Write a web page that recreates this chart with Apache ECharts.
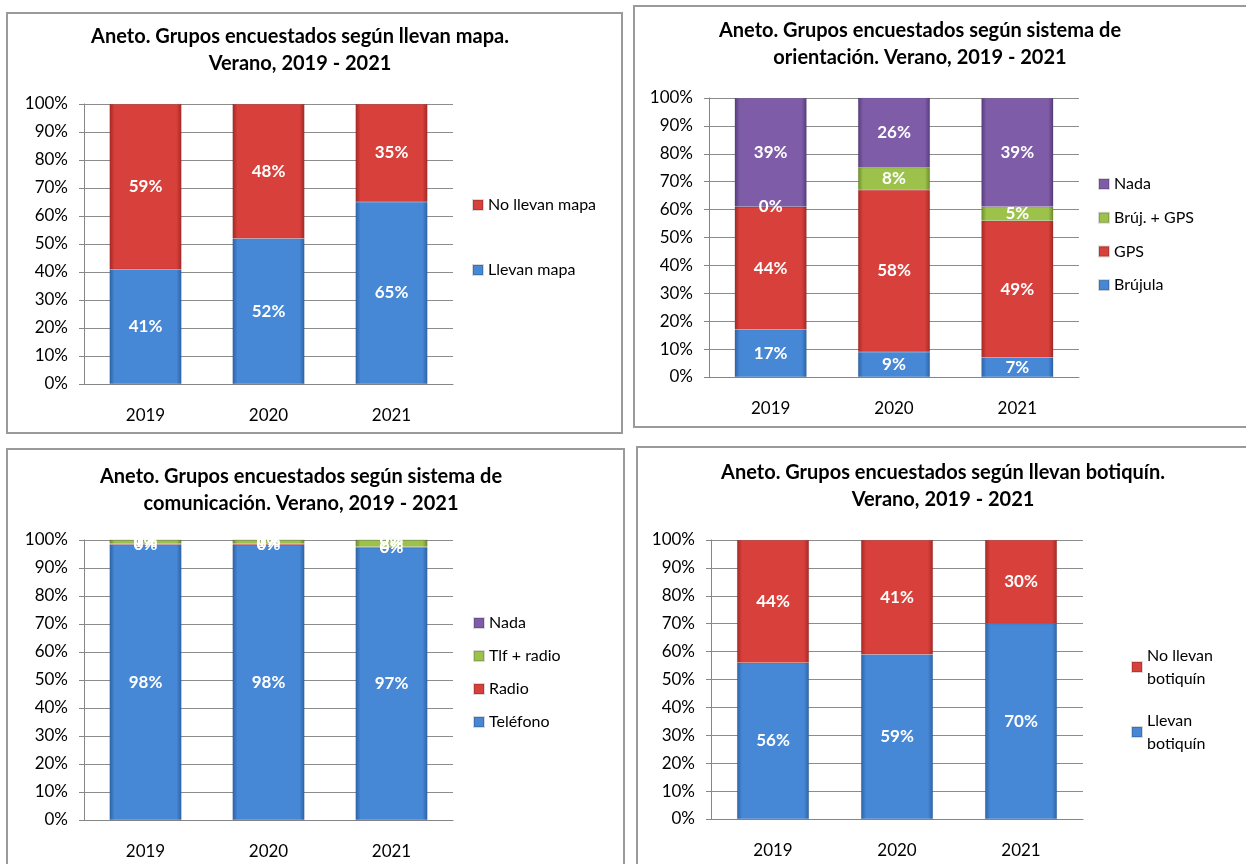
<!DOCTYPE html>
<html><head><meta charset="utf-8">
<script src="https://cdn.jsdelivr.net/npm/echarts@6/dist/echarts.min.js"></script>
<style>html,body{margin:0;padding:0;background:#fff}#c{width:1246px;height:864px}</style>
</head><body><div id="c"></div>
<script>
// ---- Data ----
const years = ['2019', '2020', '2021'];
const yTicks = ['0%','10%','20%','30%','40%','50%','60%','70%','80%','90%','100%'];

// Chart 1: mapa
const mapaSeriesNames = ['Llevan mapa', 'No llevan mapa'];
const mapaLlevan = [41, 52, 65];
const mapaNoLlevan = [59, 48, 35];

// Chart 2: orientación
const orientSeriesNames = ['Brújula', 'GPS', 'Brúj. + GPS', 'Nada'];
const orientBrujula = [17, 9, 7];
const orientGPS = [44, 58, 49];
const orientBrujGPS = [0, 8, 5];
const orientNada = [39, 26, 39];

// Chart 3: comunicación
const comSeriesNames = ['Teléfono', 'Radio', 'Tlf + radio', 'Nada'];
const comTelefono = [98.4, 98.3, 97.2];
const comRadio = [0.3, 0.4, 0.4];
const comTlfRadio = [1.3, 1.3, 2.4];
const comNada = [0, 0, 0];

// Chart 4: botiquín
const botSeriesNames = ['Llevan\nbotiquín', 'No llevan\nbotiquín'];
const botLlevan = [56, 59, 70];
const botNoLlevan = [44, 41, 30];

// ---- Styles ----
const FONT = 'Lato';
function grad(dark, base) {
  return new echarts.graphic.LinearGradient(0, 0, 1, 0, [
    {offset: 0, color: dark}, {offset: 0.07, color: base},
    {offset: 0.93, color: base}, {offset: 1, color: dark}]);
}
const C = {
  blue: grad('#2d62a6', '#4687d6'),
  red: grad('#a32824', '#d8403b'),
  green: grad('#6c8c28', '#9dc24c'),
  purple: grad('#563b7c', '#7e5ca8')
};

const grids = [
  {left: 84, top: 104, width: 369, height: 280},
  {left: 709, top: 98, width: 370, height: 279},
  {left: 84, top: 540, width: 369, height: 280},
  {left: 711, top: 540, width: 372, height: 279}
];

function xAx(i) {
  return {type: 'category', gridIndex: i, data: years,
    axisLine: {show: true, lineStyle: {color: '#868686', width: 1}},
    axisTick: {show: false},
    axisLabel: {color: '#000', fontFamily: FONT, fontSize: 17, margin: 23}};
}
function yAx(i) {
  return {type: 'value', gridIndex: i, min: 0, max: 100, interval: 10,
    axisLine: {show: true, lineStyle: {color: '#868686'}},
    axisTick: {show: true, length: 5, lineStyle: {color: '#868686'}},
    splitLine: {show: true, lineStyle: {color: '#8c8c8c', width: 1}},
    axisLabel: {color: '#000', fontFamily: FONT, fontSize: 17, margin: 16,
      formatter: v => yTicks[Math.round(v / 10)]}};
}
function bar(name, data, color, i, stack) {
  return {name, type: 'bar', stack, xAxisIndex: i, yAxisIndex: i, data,
    barWidth: 72, itemStyle: {color, borderColor: 'rgba(0,0,0,0.15)', borderWidth: 0.5},
    label: {show: true, position: 'inside', color: '#fff', fontFamily: FONT,
      fontWeight: 'bold', fontSize: 17, formatter: p => Math.round(p.value) + '%'},
    emphasis: {disabled: true}};
}

const titleStyle = {fontFamily: FONT, fontWeight: 'bold', fontSize: 20, color: '#000', lineHeight: 27};
function title(text, x, y) {
  return {text, left: x, top: y, textAlign: 'center', textStyle: titleStyle};
}
function legend(data, x, y, lh, gap) {
  return {data, orient: 'vertical', left: x, top: y, itemWidth: 10, itemHeight: 10,
    itemGap: gap, icon: 'rect', selectedMode: false,
    textStyle: {fontFamily: FONT, fontSize: 16, color: '#000', lineHeight: lh}};
}

const option = {
  animation: false,
  graphic: [
    {type: 'rect', shape: {x: 7, y: 13, width: 615, height: 420}, style: {fill: 'none', stroke: '#9a9a9a', lineWidth: 2}},
    {type: 'rect', shape: {x: 634, y: 6, width: 620, height: 421}, style: {fill: 'none', stroke: '#9a9a9a', lineWidth: 2}},
    {type: 'rect', shape: {x: 7, y: 449, width: 617, height: 430}, style: {fill: 'none', stroke: '#9a9a9a', lineWidth: 2}},
    {type: 'rect', shape: {x: 637, y: 447, width: 620, height: 430}, style: {fill: 'none', stroke: '#9a9a9a', lineWidth: 2}}
  ],
  title: [
    title('Aneto. Grupos encuestados según llevan mapa.\nVerano, 2019 - 2021', 295, 18),
    title('Aneto. Grupos encuestados según sistema de\norientación. Verano, 2019 - 2021', 915, 12),
    title('Aneto. Grupos encuestados según sistema de\ncomunicación. Verano, 2019 - 2021', 296, 458),
    title('Aneto. Grupos encuestados según llevan botiquín.\nVerano, 2019 - 2021', 938, 454)
  ],
  legend: [
    legend(['No llevan mapa', 'Llevan mapa'], 467, 191, 18, 47),
    legend(['Nada', 'Brúj. + GPS', 'GPS', 'Brújula'], 1093, 170, 18, 15.7),
    legend(['Nada', 'Tlf + radio', 'Radio', 'Teléfono'], 468, 609, 18, 15),
    legend(['No llevan\nbotiquín', 'Llevan\nbotiquín'], 1126, 639, 23, 19)
  ],
  grid: grids,
  xAxis: [0, 1, 2, 3].map(xAx),
  yAxis: [0, 1, 2, 3].map(yAx),
  series: [
    bar(mapaSeriesNames[0], mapaLlevan, C.blue, 0, 'a'),
    bar(mapaSeriesNames[1], mapaNoLlevan, C.red, 0, 'a'),
    bar(orientSeriesNames[0], orientBrujula, C.blue, 1, 'b'),
    bar(orientSeriesNames[1], orientGPS, C.red, 1, 'b'),
    bar(orientSeriesNames[2], orientBrujGPS, C.green, 1, 'b'),
    bar(orientSeriesNames[3], orientNada, C.purple, 1, 'b'),
    bar(comSeriesNames[0], comTelefono, C.blue, 2, 'c'),
    bar(comSeriesNames[1], comRadio, C.red, 2, 'c'),
    bar(comSeriesNames[2], comTlfRadio, C.green, 2, 'c'),
    bar(comSeriesNames[3], comNada, C.purple, 2, 'c'),
    bar(botSeriesNames[0], botLlevan, C.blue, 3, 'd'),
    bar(botSeriesNames[1], botNoLlevan, C.red, 3, 'd')
  ]
};
const chart = echarts.init(document.getElementById('c'), null, {renderer: 'canvas'});
chart.setOption(option);
</script>
</body></html>
